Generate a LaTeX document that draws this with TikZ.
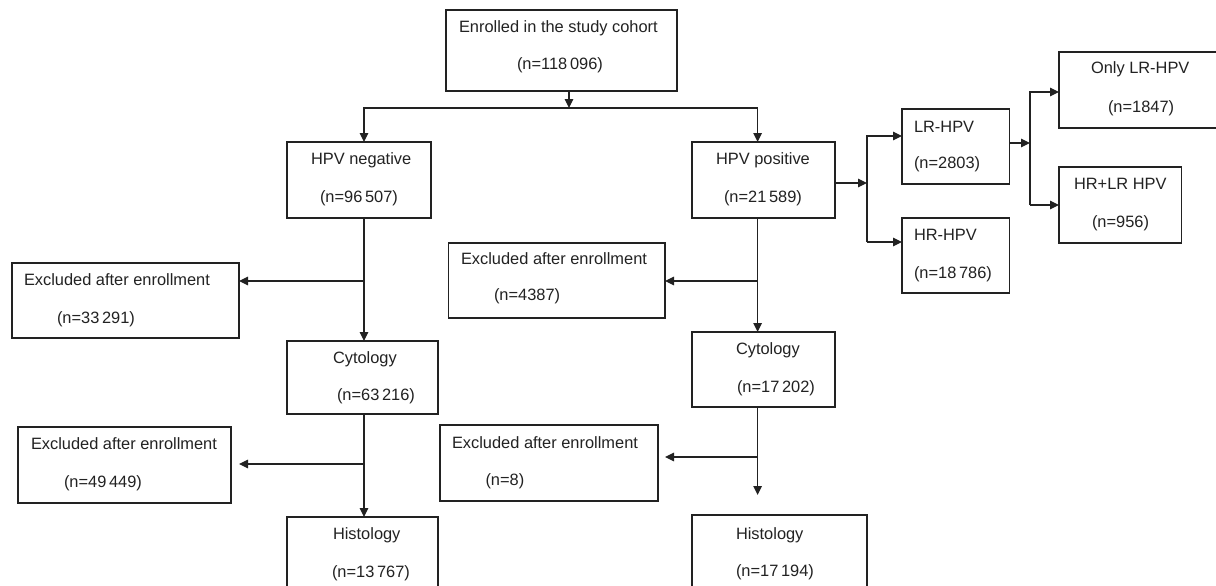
\documentclass[tikz,border=0pt]{standalone}
\usepackage{fontspec}
\setmainfont{Liberation Sans}
\usetikzlibrary{arrows.meta}
\definecolor{ink}{HTML}{222222}
\begin{document}
\begin{tikzpicture}[x=1pt,y=-1pt,
  box/.style={draw=ink, line width=1.3pt, inner sep=0pt, outer sep=0pt},
  lbl/.style={anchor=base west, inner sep=0pt, outer sep=0pt, text=ink, font=\fontsize{16.4}{20}\selectfont},
  link/.style={draw=ink, line width=1.2pt},
  arr/.style={link, -{Triangle[length=9pt,width=8.5pt]}}]
\useasboundingbox (0,0) rectangle (1216,586);
\fill[white] (0,0) rectangle (1216,586);
\clip (0,0) rectangle (1216,586);
% boxes
\node[box, minimum width=231pt, minimum height=81pt] (enr) at (561.5,50.5) {};
\node[box, minimum width=144pt, minimum height=76pt] (neg) at (359,180) {};
\node[box, minimum width=143pt, minimum height=76pt] (pos) at (763.5,180) {};
\node[box, minimum width=107.5pt, minimum height=75pt] (lr) at (955.75,146.5) {};
\node[box, minimum width=107.5pt, minimum height=75pt] (hr) at (955.75,255.5) {};
\node[box, minimum width=161pt, minimum height=76pt] (only) at (1139.5,90) {};
\node[box, minimum width=122.5pt, minimum height=76pt] (hrlr) at (1120.25,205) {};
\node[box, minimum width=227pt, minimum height=75pt] (e1) at (125.5,300.5) {};
\node[box, minimum width=216.5pt, minimum height=75pt] (e2) at (556.75,280.5) {};
\node[box, minimum width=151pt, minimum height=73pt] (cytl) at (362.5,377.5) {};
\node[box, minimum width=213pt, minimum height=76pt] (e3) at (124.5,465) {};
\node[box, minimum width=143pt, minimum height=75pt] (cytr) at (763.5,369.5) {};
\node[box, minimum width=218pt, minimum height=76pt] (e4) at (549,463) {};
\node[box, minimum width=151pt, minimum height=83pt] (histl) at (362.5,558.5) {};
\node[box, minimum width=175pt, minimum height=85pt] (histr) at (779.5,557.5) {};
% texts
\node[lbl] (tenr1) at (459,33) {Enrolled in the study cohort};
\node[lbl] (tenr2) at (517,70) {(n=118\,096)};
\node[lbl] (tneg1) at (311,164) {HPV negative};
\node[lbl] (tneg2) at (320,202) {(n=96\,507)};
\node[lbl] (tpos1) at (716,164) {HPV positive};
\node[lbl] (tpos2) at (724,202) {(n=21\,589)};
\node[lbl] (tlr1) at (914,132) {LR-HPV};
\node[lbl] (tlr2) at (914,168) {(n=2803)};
\node[lbl] (thr1) at (914,240) {HR-HPV};
\node[lbl] (thr2) at (914,278) {(n=18\,786)};
\node[lbl] (tonly1) at (1091,74) {Only LR-HPV};
\node[lbl] (tonly2) at (1108,112) {(n=1847)};
\node[lbl] (thrlr1) at (1074,189) {HR+LR HPV};
\node[lbl] (thrlr2) at (1092,227) {(n=956)};
\node[lbl] (te11) at (24,285) {Excluded after enrollment};
\node[lbl] (te12) at (57,323) {(n=33\,291)};
\node[lbl] (te21) at (461,264) {Excluded after enrollment};
\node[lbl] (te22) at (494,300) {(n=4387)};
\node[lbl] (tcytl1) at (333,363) {Cytology};
\node[lbl] (tcytl2) at (337,400) {(n=63\,216)};
\node[lbl] (te31) at (31,449) {Excluded after enrollment};
\node[lbl] (te32) at (64,487) {(n=49\,449)};
\node[lbl] (te41) at (452,448) {Excluded after enrollment};
\node[lbl] (te42) at (485.5,485) {(n=8)};
\node[lbl] (thistl1) at (333,539) {Histology};
\node[lbl] (thistl2) at (332,577) {(n=13\,767)};
\node[lbl] (tcytr1) at (736,354) {Cytology};
\node[lbl] (tcytr2) at (737,392) {(n=17\,202)};
\node[lbl] (thistr1) at (736,539) {Histology};
\node[lbl] (thistr2) at (736,576) {(n=17\,194)};
% junction coordinates
\coordinate (j0) at (569,108);
\coordinate (cl) at (364,108);
\coordinate (cr) at (757.6,108);
\coordinate (b1) at (364,281);
\coordinate (b2) at (757.6,281);
\coordinate (b3) at (364,464);
\coordinate (b4) at (757.6,457);
\coordinate (h4) at (757.6,495);
\coordinate (s1) at (867,183);
\coordinate (s1t) at (867,136);
\coordinate (s1b) at (867,242);
\coordinate (s2) at (1030,143);
\coordinate (s2t) at (1030,92);
\coordinate (s2b) at (1030,205);
% connectors
\draw[arr] (j0 |- enr.south) -- (j0);
\draw[arr] (cr) -- (cl) -- (cl |- neg.north);
\draw[arr] (cr) -- (cr |- pos.north);
\draw[arr] (b1 |- neg.south) -- (b1 |- cytl.north);
\draw[arr] (b1) -- (b1 -| e1.east);
\draw[arr] (b3 |- cytl.south) -- (b3 |- histl.north);
\draw[arr] (b3) -- ([xshift=8pt]b3 -| e3.east);
\draw[arr] (b2 |- pos.south) -- (b2 |- cytr.north);
\draw[arr] (b2) -- (b2 -| e2.east);
\draw[arr] (b4 |- cytr.south) -- (h4);
\draw[arr] (b4) -- ([xshift=7pt]b4 -| e4.east);
\draw[arr] (s1 -| pos.east) -- (s1);
\draw[arr] (s1b) -- (s1t) -- (s1t -| lr.west);
\draw[arr] (s1b) -- (s1b -| hr.west);
\draw[arr] (s2 -| lr.east) -- (s2);
\draw[arr] (s2b) -- (s2t) -- (s2t -| only.west);
\draw[arr] (s2b) -- (s2b -| hrlr.west);
\end{tikzpicture}
\end{document}
